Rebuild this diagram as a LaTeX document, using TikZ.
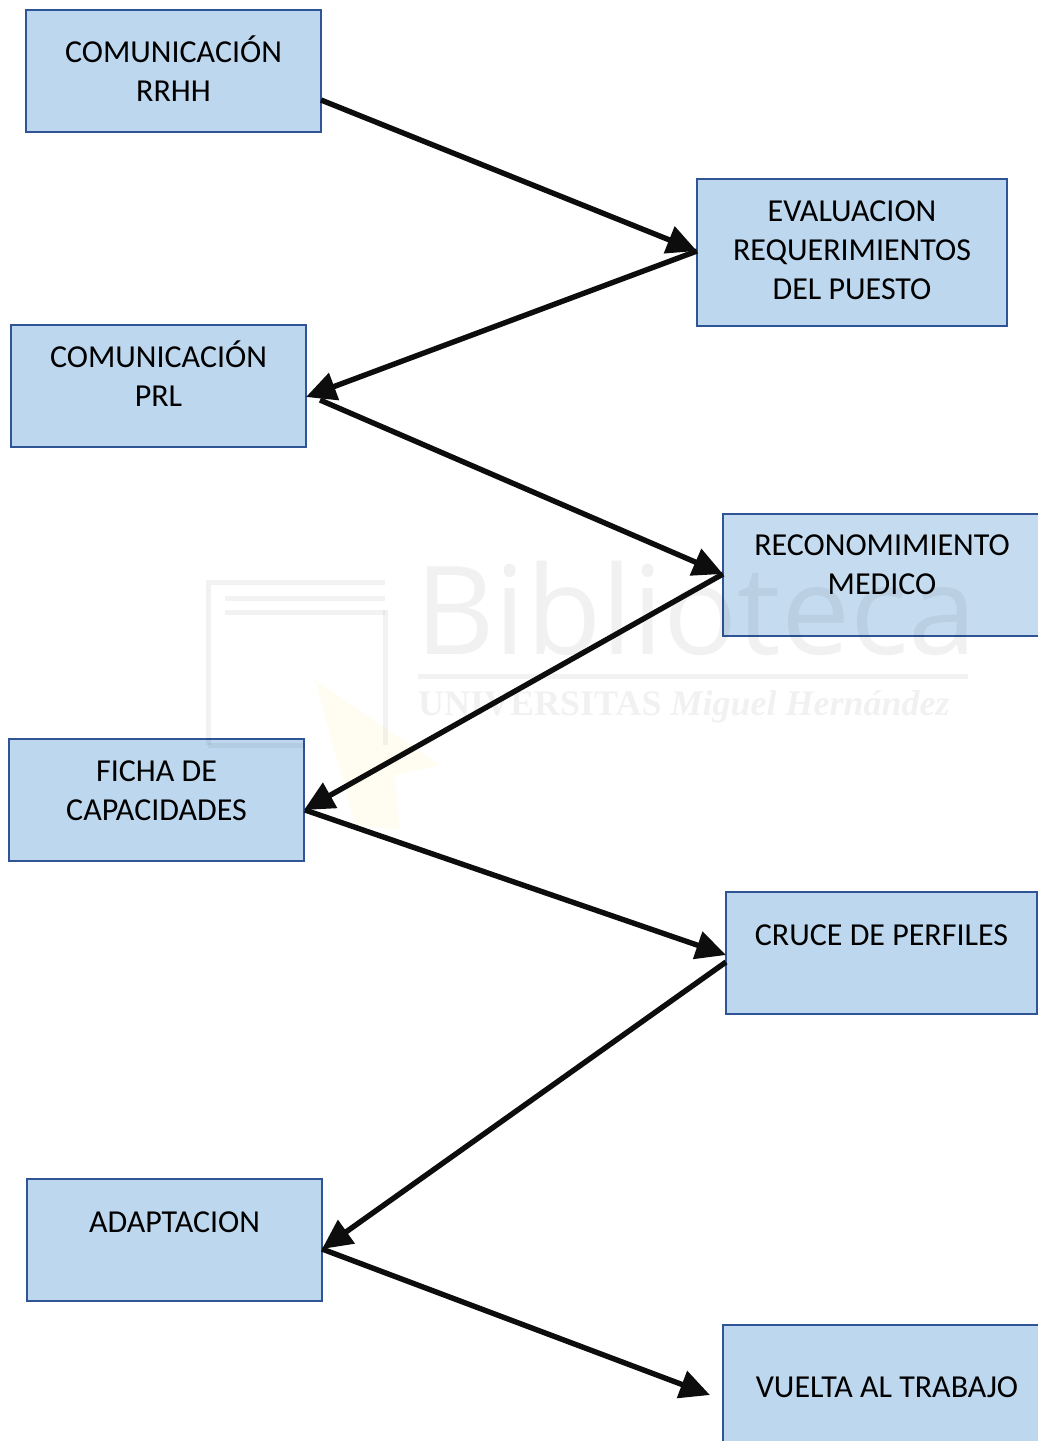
\documentclass[tikz,border=0pt]{standalone}
\usepackage{fontspec}
\setmainfont{Carlito}
\newfontfamily\wmfont{Open Sans}
\newfontfamily\wmserif{Liberation Serif}
\usetikzlibrary{arrows.meta}
\definecolor{boxfill}{HTML}{BDD7EE}
\definecolor{boxedge}{HTML}{2F5597}
\tikzset{
  box/.style={draw=boxedge,line width=2.9pt,fill=boxfill,inner sep=0pt,outer sep=0pt},
  lbl/.style={inner sep=0pt,align=center,font=\fontsize{32}{39}\selectfont,text=black},
  flow/.style={draw=black!95,line width=5.4pt,-{Triangle[length=30pt,width=28pt]},shorten >=0pt},
  wm/.style={opacity=.055,text=black,inner sep=0pt},
  wmline/.style={draw=black,opacity=.05,line width=5pt}
}
\begin{document}
\begin{tikzpicture}[x=1pt,y=-1pt]
\useasboundingbox (0,0) rectangle (1038,1441);
\clip (0,0) rectangle (1038,1441);
\node[box,minimum width=295pt,minimum height=122pt] (a) at (173.5,71) {};
\node[box,minimum width=310pt,minimum height=147pt] (b) at (852,252.5) {};
\node[box,minimum width=295pt,minimum height=122pt] (c) at (158.5,386) {};
\node[box,minimum width=318pt,minimum height=122pt,fill=boxfill!88!white] (d) at (882,575) {};
\node[box,minimum width=295pt,minimum height=122pt] (e) at (156.5,800) {};
\node[box,minimum width=311pt,minimum height=122pt] (f) at (881.5,953) {};
\node[box,minimum width=295pt,minimum height=122pt] (g) at (174.5,1240) {};
\node[box,minimum width=328pt,minimum height=124pt] (h) at (887,1387) {};
% faint watermark
\node[wm,anchor=west,font=\wmfont\fontsize{123}{123}\selectfont] (wb) at (415,608) {Biblioteca};
\node[wm,anchor=west,font=\wmserif\bfseries\fontsize{36}{36}\selectfont] (wu) at (418,707) {UNIVERSITAS \itshape Miguel Hernández};
\coordinate (l1) at (418,676);
\coordinate (l2) at (968,676);
\draw[wmline] (l1) -- (l2);
\coordinate (k1) at (208,745);
\coordinate (k2) at (208,582);
\coordinate (k3) at (385,582);
\coordinate (k4) at (385,745);
\draw[wmline] (k1) -- (k2) -- (k3);
\draw[wmline] (k3 |- 0,610) -- (k4);
\draw[wmline] (225,598) -- (k3 |- 0,598);
\draw[wmline] (225,612) -- (k3 |- 0,612);
\draw[wmline] (k1) -- (305,745);
\fill[yellow!60!orange,opacity=.05] (315,680) -- (440,765) -- (395,775) -- (400,830) -- (355,825) -- cycle;
% labels
\node[lbl] (ta) at (173.5,68.5) {COMUNICACIÓN\\RRHH};
\node[lbl] (tb) at (852,250) {EVALUACION\\REQUERIMIENTOS\\DEL PUESTO};
\node[lbl] (tc) at (158.5,373.5) {COMUNICACIÓN\\PRL};
\node[lbl] (td) at (882,564.5) {RECONOMIMIENTO\\MEDICO};
\node[lbl] (te) at (156.5,790.5) {FICHA DE\\CAPACIDADES};
\node[lbl] (tf) at (881.5,935) {CRUCE DE PERFILES};
\node[lbl] (tg) at (174.5,1222) {ADAPTACION};
\node[lbl] (th) at (887,1387) {VUELTA AL TRABAJO};
% connectors
\draw[flow] ([yshift=-29pt]a.east) -- ([yshift=1.5pt]b.west);
\draw[flow] ([yshift=1.5pt]b.west) -- ([yshift=-11pt]c.east);
\draw[flow] ([xshift=14pt,yshift=-14pt]c.east) -- ([yshift=1pt]d.west);
\draw[flow] ([yshift=1pt]d.west) -- ([yshift=-10pt]e.east);
\draw[flow] ([xshift=1pt,yshift=-10pt]e.east) -- ([yshift=-2pt]f.west);
\draw[flow] ([yshift=-9pt]f.west) -- ([yshift=-9pt]g.east);
\draw[flow] ([yshift=-9pt]g.east) -- ([xshift=-13pt,yshift=-8pt]h.west);
\end{tikzpicture}
\end{document}
